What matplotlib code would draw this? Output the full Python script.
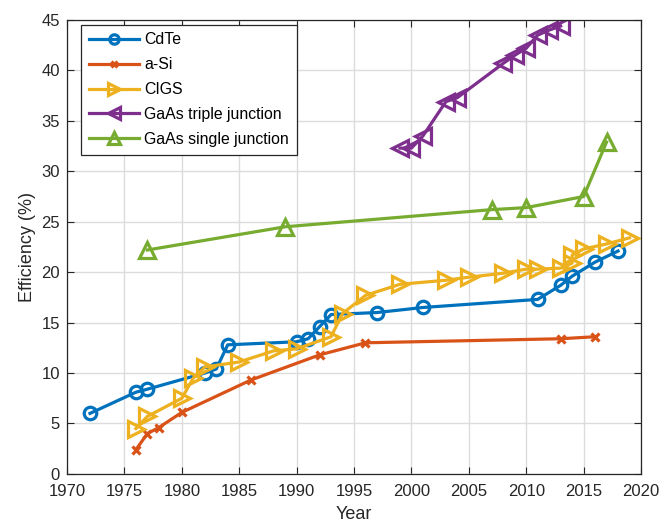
import matplotlib
matplotlib.use("Agg")
import matplotlib.pyplot as plt

plt.rcParams['font.family'] = ['Liberation Sans', 'DejaVu Sans']

# ---- data ----
cdte_year = [1972, 1976, 1977, 1982, 1983, 1984, 1990, 1991, 1992, 1993, 1997, 2001, 2011, 2013, 2014, 2016, 2018]
cdte_eff = [6.0, 8.1, 8.4, 10.0, 10.4, 12.8, 13.1, 13.4, 14.6, 15.8, 16.0, 16.5, 17.3, 18.7, 19.6, 21.0, 22.1]

asi_year = [1976, 1977, 1978, 1980, 1986, 1992, 1996, 2013, 2016]
asi_eff = [2.4, 4.0, 4.6, 6.1, 9.3, 11.8, 13.0, 13.4, 13.6]

cigs_year = [1976, 1977, 1980, 1981, 1982, 1985, 1988, 1990, 1993, 1994, 1996, 1999, 2003, 2005, 2008,
             2010, 2011, 2013, 2014, 2014, 2015, 2017, 2019]
cigs_eff = [4.5, 5.7, 7.5, 9.5, 10.6, 11.1, 12.2, 12.4, 13.6, 15.9, 17.7, 18.8, 19.2, 19.5, 19.9,
            20.3, 20.3, 20.4, 20.9, 21.7, 22.3, 22.8, 23.4]

gaas3_year = [1999, 2000, 2001, 2003, 2004, 2008, 2009, 2010, 2011, 2012, 2013]
gaas3_eff = [32.3, 32.3, 33.5, 36.9, 37.3, 40.7, 41.5, 42.2, 43.5, 44.0, 44.4]

gaas1_year = [1977, 1989, 2007, 2010, 2015, 2017]
gaas1_eff = [22.2, 24.5, 26.2, 26.4, 27.5, 32.9]

fig = plt.figure(figsize=(6.59, 5.26), dpi=100)
ax = fig.add_axes([0.1017, 0.099, 0.871, 0.863])

lw = 2.3
ax.plot(cdte_year, cdte_eff, color='#0072BD', lw=lw, marker='o', ms=9, mfc='none', mew=2.3, label='CdTe')
ax.plot(asi_year, asi_eff, color='#D95319', lw=lw, marker='x', ms=6, mew=2.3, label='a-Si')
ax.plot(cigs_year, cigs_eff, color='#EDB120', lw=lw, marker='>', ms=11, mfc='none', mew=2.3, label='CIGS')
ax.plot(gaas3_year, gaas3_eff, color='#7E2F8E', lw=lw, marker='<', ms=11, mfc='none', mew=2.3,
        label='GaAs triple junction')
ax.plot(gaas1_year, gaas1_eff, color='#77AC30', lw=lw, marker='^', ms=11, mfc='none', mew=2.3,
        label='GaAs single junction')

ax.set_xlim(1970, 2020)
ax.set_ylim(0, 45)
ax.set_xticks(range(1970, 2021, 5))
ax.set_yticks(range(0, 46, 5))
ax.grid(True, color='#DCDCDC', lw=1.0)
ax.set_axisbelow(True)
ax.tick_params(direction='in', top=True, right=True, labelsize=12, length=5, colors='#262626')
ax.tick_params(axis='x', pad=7)
ax.tick_params(axis='y', pad=5)
for s in ax.spines.values():
    s.set_color('#262626')
    s.set_linewidth(0.9)

ax.set_xlabel('Year', fontsize=13, color='#262626', labelpad=5)
ax.set_ylabel('Efficiency (%)', fontsize=13, color='#262626', labelpad=4)

leg = ax.legend(loc='upper left', bbox_to_anchor=(0.024, 0.99), borderaxespad=0, fontsize=11.4,
                frameon=True, fancybox=False, edgecolor='#262626', framealpha=1,
                handlelength=3.2, handletextpad=0.3, labelspacing=0.62, borderpad=0.5,
                markerscale=0.75)
leg.get_frame().set_linewidth(0.9)

fig.savefig('out.png', dpi=100)
